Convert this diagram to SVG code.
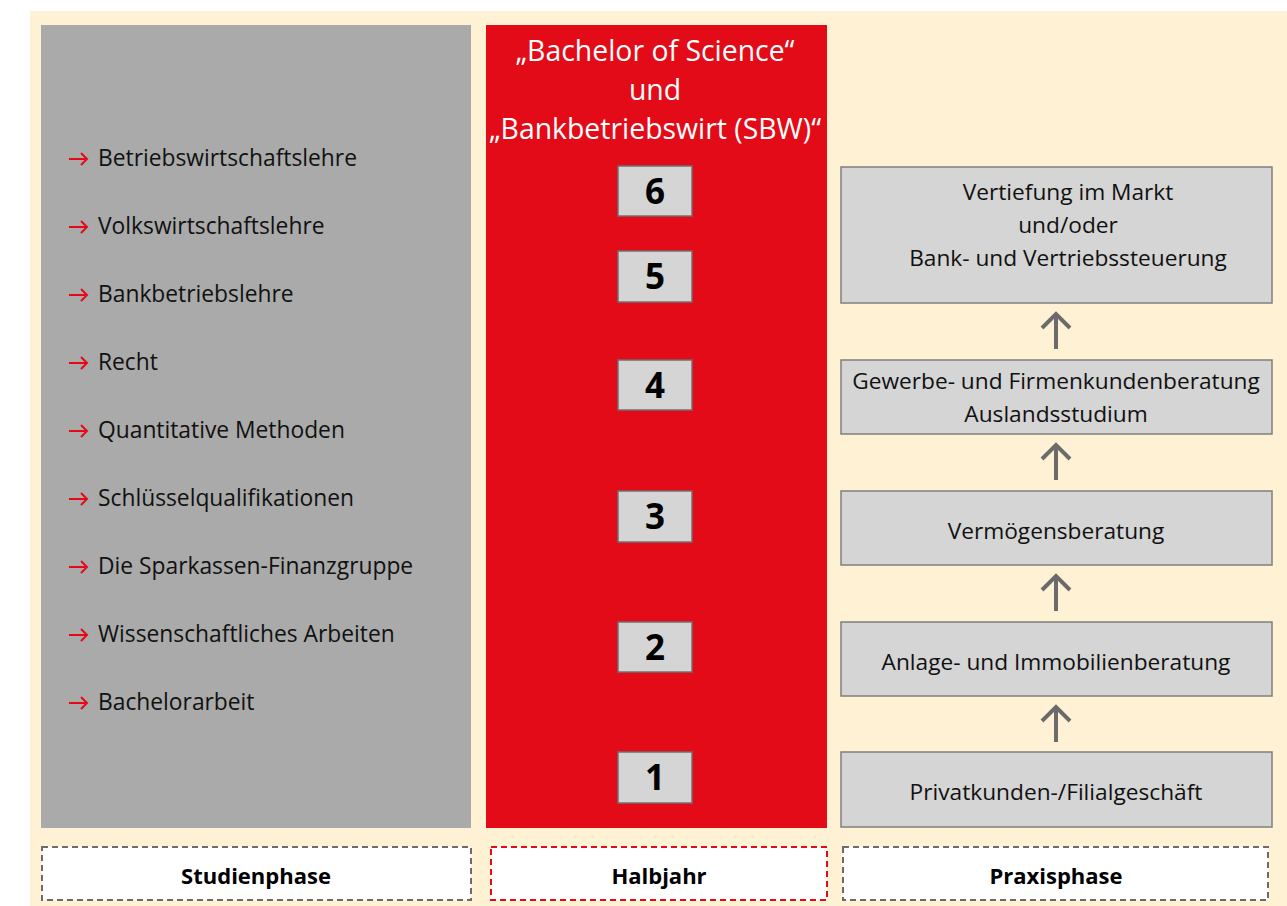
<svg xmlns="http://www.w3.org/2000/svg" width="1287" height="906" viewBox="0 0 1287 906">
<style>
.t{font-family:"Open Sans","Noto Sans",sans-serif;fill:#111}
.li{font-size:22.8px}
.bx{fill:#d4d5d4;stroke:#7f7f7f;stroke-width:1.5}
.num{fill:#d4d5d4;stroke:#707070;stroke-width:1.5}
.nt{font-family:"Open Sans","Noto Sans",sans-serif;font-weight:bold;font-size:35px;fill:#000;text-anchor:middle}
.rt{font-family:"Open Sans","Noto Sans",sans-serif;font-size:22.7px;fill:#111;text-anchor:middle}
.ti{font-family:"Open Sans","Noto Sans",sans-serif;font-size:28.4px;fill:#fff;text-anchor:middle}
.lab{font-family:"Open Sans","Noto Sans",sans-serif;font-weight:bold;font-size:22px;fill:#000;text-anchor:middle}
.dash{fill:#fff;stroke:#6b6b6b;stroke-width:2;stroke-dasharray:6 4}
.ra{stroke:#e30b17;stroke-width:2;fill:none}
.up{stroke:#6b6b6b;stroke-width:4;fill:none}
</style>
<rect x="0" y="0" width="1287" height="906" fill="#fff"/>
<rect x="30" y="11" width="1257" height="895" fill="#fff1d3"/>
<g id="studienphase">
<rect x="41" y="25" width="430" height="803" fill="#a9aaa9"/>
<g class="ra">
<path d="M69 159 H87 M81 153 L87 159 L81 165"/>
<path d="M69 227 H87 M81 221 L87 227 L81 233"/>
<path d="M69 295 H87 M81 289 L87 295 L81 301"/>
<path d="M69 363 H87 M81 357 L87 363 L81 369"/>
<path d="M69 431 H87 M81 425 L87 431 L81 437"/>
<path d="M69 499 H87 M81 493 L87 499 L81 505"/>
<path d="M69 567 H87 M81 561 L87 567 L81 573"/>
<path d="M69 635 H87 M81 629 L87 635 L81 641"/>
<path d="M69 703 H87 M81 697 L87 703 L81 709"/>
</g>
<text class="t li" x="98" y="166">Betriebswirtschaftslehre</text>
<text class="t li" x="98" y="234">Volkswirtschaftslehre</text>
<text class="t li" x="98" y="302">Bankbetriebslehre</text>
<text class="t li" x="98" y="370">Recht</text>
<text class="t li" x="98" y="438">Quantitative Methoden</text>
<text class="t li" x="98" y="506">Schlüsselqualifikationen</text>
<text class="t li" x="98" y="574">Die Sparkassen-Finanzgruppe</text>
<text class="t li" x="98" y="642">Wissenschaftliches Arbeiten</text>
<text class="t li" x="98" y="710">Bachelorarbeit</text>
</g>
<g id="halbjahr">
<rect x="486" y="25" width="341" height="803" fill="#e30b17"/>
<text class="ti" x="655" y="61">„Bachelor of Science“</text>
<text class="ti" x="655" y="100">und</text>
<text class="ti" x="655" y="139">„Bankbetriebswirt (SBW)“</text>
</g>
<g id="sem6"><rect class="num" x="618" y="166" width="74" height="50"/><text class="nt" x="655" y="204">6</text></g>
<g id="sem5"><rect class="num" x="618" y="251" width="74" height="51"/><text class="nt" x="655" y="289">5</text></g>
<g id="sem4"><rect class="num" x="618" y="360" width="74" height="50"/><text class="nt" x="655" y="398">4</text></g>
<g id="sem3"><rect class="num" x="618" y="491" width="74" height="51"/><text class="nt" x="655" y="529">3</text></g>
<g id="sem2"><rect class="num" x="618" y="622" width="74" height="50"/><text class="nt" x="655" y="660">2</text></g>
<g id="sem1"><rect class="num" x="618" y="752" width="74" height="51"/><text class="nt" x="655" y="790">1</text></g>
<g id="vertiefung"><rect class="bx" x="841" y="167" width="431" height="136"/>
<text class="rt" x="1068" y="200">Vertiefung im Markt</text>
<text class="rt" x="1068" y="233">und/oder</text>
<text class="rt" x="1068" y="266">Bank- und Vertriebssteuerung</text></g>
<g id="gewerbe"><rect class="bx" x="841" y="360" width="431" height="74"/>
<text class="rt" x="1056" y="389">Gewerbe- und Firmenkundenberatung</text>
<text class="rt" x="1056" y="422">Auslandsstudium</text></g>
<g id="vermoegen"><rect class="bx" x="841" y="491" width="431" height="74"/>
<text class="rt" x="1056" y="539">Vermögensberatung</text></g>
<g id="anlage"><rect class="bx" x="841" y="622" width="431" height="74"/>
<text class="rt" x="1056" y="670">Anlage- und Immobilienberatung</text></g>
<g id="privat"><rect class="bx" x="841" y="752" width="431" height="75"/>
<text class="rt" x="1056" y="800">Privatkunden-/Filialgeschäft</text></g>
<g id="connectors" class="up">
<path d="M1056 349 V314 M1042 328 L1056 314 L1070 328"/>
<path d="M1056 480 V445 M1042 459 L1056 445 L1070 459"/>
<path d="M1056 611 V576 M1042 590 L1056 576 L1070 590"/>
<path d="M1056 742 V707 M1042 721 L1056 707 L1070 721"/>
</g>
<g id="lab-studien"><rect class="dash" x="42" y="847" width="429" height="53"/><text class="lab" x="256" y="884">Studienphase</text></g>
<g id="lab-halbjahr"><rect class="dash" x="491" y="847" width="336" height="53" style="stroke:#e30b17"/><text class="lab" x="659" y="884">Halbjahr</text></g>
<g id="lab-praxis"><rect class="dash" x="843" y="847" width="425" height="53"/><text class="lab" x="1056" y="884">Praxisphase</text></g>
</svg>
